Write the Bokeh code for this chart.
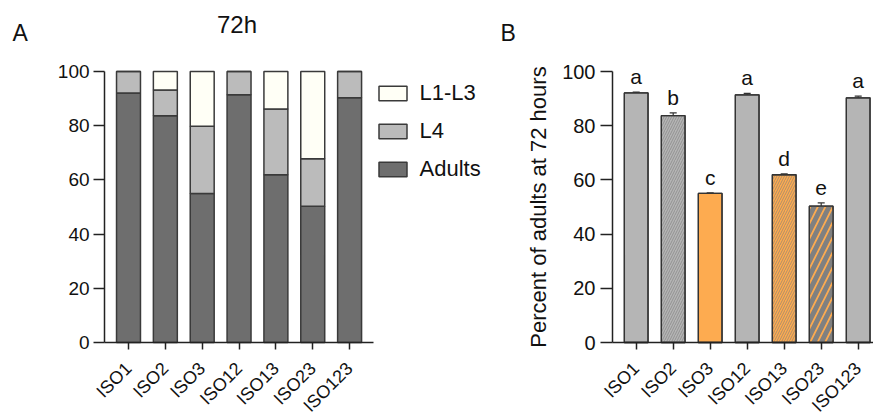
import numpy as np
from bokeh.plotting import figure
from bokeh.models import (ColumnDataSource, Range1d, FixedTicker, Legend, LegendItem,
                          Whisker, LabelSet, Label, TeeHead, LinearAxis, CDSView, IndexFilter)
from bokeh.layouts import row
from bokeh.embed import file_html
from bokeh.resources import INLINE
from bokeh.core.properties import value

# ---------------- data ----------------
categories = ["ISO1", "ISO2", "ISO3", "ISO12", "ISO13", "ISO23", "ISO123"]
adults = [92.1, 83.7, 55.0, 91.4, 61.9, 50.3, 90.3]
adults_err = [0.3, 1.0, 0.2, 0.5, 0.3, 1.2, 0.6]
l4 = [7.9, 9.5, 24.8, 8.6, 24.3, 17.5, 9.7]
l4_err = [0.0, 0.8, 0.3, 0.0, 0.3, 0.6, 0.0]
l1_l3 = [0.0, 6.8, 20.2, 0.0, 13.8, 32.2, 0.0]
letters = ["a", "b", "c", "a", "d", "e", "a"]
y_ticks = [0, 20, 40, 60, 80, 100]
stage_labels = ["L1-L3", "L4", "Adults"]

# ---------------- styles ----------------
FONT = "Liberation Sans"
TXT = "#111111"
c_adult, c_l4, c_l13 = "#6e6e6e", "#bbbbbb", "#fffff6"
grey_b, orange_b = "#b5b5b5", "#fdab50"
b_fill = [grey_b, grey_b, orange_b, grey_b, orange_b, orange_b, grey_b]
b_hatch = ["none", "fine", "none", "none", "fine", "bold", "none"]

# ---------------- geometry (pixels) ----------------
H = 415
PX_Y = 2.71                      # pixels per y unit
Y_TOP = 100 + 71 / PX_Y          # canvas top
Y_BOT = -(H - 342) / PX_Y        # canvas bottom

xpos = list(range(1, len(categories) + 1))
overrides = {x: c for x, c in zip(xpos, categories)}


def make_axes(p, x_lo, x_hi, ylab_size, tick_out):
    xax = LinearAxis(ticker=FixedTicker(ticks=xpos), major_label_overrides=overrides,
                     fixed_location=0, bounds=(x_lo, x_hi))
    yax = LinearAxis(ticker=FixedTicker(ticks=y_ticks), fixed_location=x_lo, bounds=(0, 100))
    for ax in (xax, yax):
        ax.axis_line_color = "#222222"
        ax.axis_line_width = 1.5
        ax.major_tick_line_color = "#222222"
        ax.major_tick_line_width = 1.5
        ax.major_tick_in = 0
        ax.minor_tick_line_color = None
        ax.major_label_text_font = FONT
        ax.major_label_text_color = TXT
    yax.major_label_text_font_size = ylab_size
    yax.major_tick_out = tick_out
    yax.major_label_standoff = 4
    xax.major_label_text_font_size = "18px"
    xax.major_tick_out = 7
    xax.major_label_standoff = 16
    xax.major_label_orientation = np.pi / 4
    p.add_layout(xax, "below")
    p.add_layout(yax, "left")
    return xax, yax


def base_fig(width, x0, x1):
    p = figure(width=width, height=H, x_range=Range1d(x0, x1), y_range=Range1d(Y_BOT, Y_TOP),
               x_axis_type=None, y_axis_type=None, output_backend="svg",
               toolbar_location=None, min_border=0, outline_line_color=None)
    return p


# ---------------- panel A ----------------
PX_XA = 36.85
xa0 = 1 - 128 / PX_XA
pA = base_fig(500, xa0, xa0 + 500 / PX_XA)
make_axes(pA, 0.35, 7.65, "19px", 11)

srcA = ColumnDataSource(dict(x=xpos, adults=adults, l4=l4, l1_l3=l1_l3))
rs = pA.vbar_stack(["adults", "l4", "l1_l3"], x="x", width=0.65, source=srcA,
                   fill_color=[c_adult, c_l4, c_l13], line_color="#3a3a3a", line_width=1.5)

lo1 = [a for a, e in zip(adults, adults_err) if e > 0]
hi1 = [a + e for a, e in zip(adults, adults_err) if e > 0]
x1 = [x for x, e in zip(xpos, adults_err) if e > 0]
lo2 = [a + b for a, b, e in zip(adults, l4, l4_err) if e > 0]
hi2 = [a + b + e for a, b, e in zip(adults, l4, l4_err) if e > 0]
x2 = [x for x, e in zip(xpos, l4_err) if e > 0]
errA = ColumnDataSource(dict(x=x1 + x2, lo=lo1 + lo2, hi=hi1 + hi2))
pA.add_layout(Whisker(base="x", lower="lo", upper="hi", source=errA, line_color="#333333",
                      line_width=1.2, lower_head=None,
                      upper_head=TeeHead(size=7, line_color="#333333", line_width=1.2)))

pA.add_layout(Legend(items=[LegendItem(label=stage_labels[0], renderers=[rs[2]]),
                            LegendItem(label=stage_labels[1], renderers=[rs[1]]),
                            LegendItem(label=stage_labels[2], renderers=[rs[0]])],
                     location=(374.5, H - 183), glyph_width=35, glyph_height=18,
                     label_height=28, spacing=10, padding=0, margin=0,
                     border_line_color=None, background_fill_alpha=0, label_text_font=FONT,
                     label_text_font_size="22px", label_standoff=10, label_text_color=TXT))

pA.add_layout(Label(x=12, y=H - 45, x_units="screen", y_units="screen", text="A",
                    text_font=FONT, text_font_size="23px", text_color=TXT))
pA.add_layout(Label(x=236.5, y=H - 37, x_units="screen", y_units="screen", text="72h",
                    text_align="center", text_font=FONT, text_font_size="24px",
                    text_color=TXT))

# ---------------- panel B ----------------
PX_XB = 37.0
xb0 = 1 - 135.7 / PX_XB
xb_axis = xb0 + 112 / PX_XB
pB = base_fig(373, xb0, xb0 + 373 / PX_XB)
_, yaxB = make_axes(pB, xb_axis, xb0 + 380 / PX_XB, "20px", 12)
yaxB.major_label_standoff = 5
yaxB.axis_label = "Percent of adults at 72 hours"
yaxB.axis_label_text_font = FONT
yaxB.axis_label_text_font_size = "22px"
yaxB.axis_label_text_font_style = "normal"
yaxB.axis_label_text_color = TXT
yaxB.axis_label_standoff = 8

srcB = ColumnDataSource(dict(
    x=xpos, adults=adults, top=[a + e for a, e in zip(adults, adults_err)],
    letter=letters, fill=b_fill,
))
pB.vbar(x="x", top="adults", width=0.64, source=srcB, fill_color="fill",
        line_color="#333333", line_width=1.3)
fine_idx = [i for i, h in enumerate(b_hatch) if h == "fine"]
bold_idx = [i for i, h in enumerate(b_hatch) if h == "bold"]
pB.vbar(x="x", top="adults", width=0.64, source=srcB, view=CDSView(filter=IndexFilter(fine_idx)),
        fill_alpha=0, line_color=None, hatch_pattern="/", hatch_color="#7a7a7a",
        hatch_alpha=0.6, hatch_scale=5, hatch_weight=1)
pB.vbar(x="x", top="adults", width=0.64, source=srcB, view=CDSView(filter=IndexFilter(bold_idx)),
        fill_alpha=0, line_color=None, hatch_pattern="/", hatch_color="#808080",
        hatch_alpha=1.0, hatch_scale=15, hatch_weight=5)
pB.vbar(x="x", top="adults", width=0.64, source=srcB, fill_alpha=0,
        line_color="#333333", line_width=1.3)
pB.add_layout(Whisker(base="x", lower="adults", upper="top", source=srcB, line_color="#333333",
                      line_width=1.2, lower_head=None,
                      upper_head=TeeHead(size=7, line_color="#333333", line_width=1.2)))
pB.add_layout(LabelSet(x="x", y="top", text="letter", source=srcB, y_offset=8,
                       text_align="center", text_baseline="alphabetic",
                       text_font=value(FONT), text_font_size=value("21px"),
                       text_color=TXT))
pB.add_layout(Label(x=0, y=H - 45, x_units="screen", y_units="screen", text="B",
                    text_font=FONT, text_font_size="23px", text_color=TXT))

layout = row(pA, pB)
open("out.html", "w").write(file_html(layout, INLINE))
